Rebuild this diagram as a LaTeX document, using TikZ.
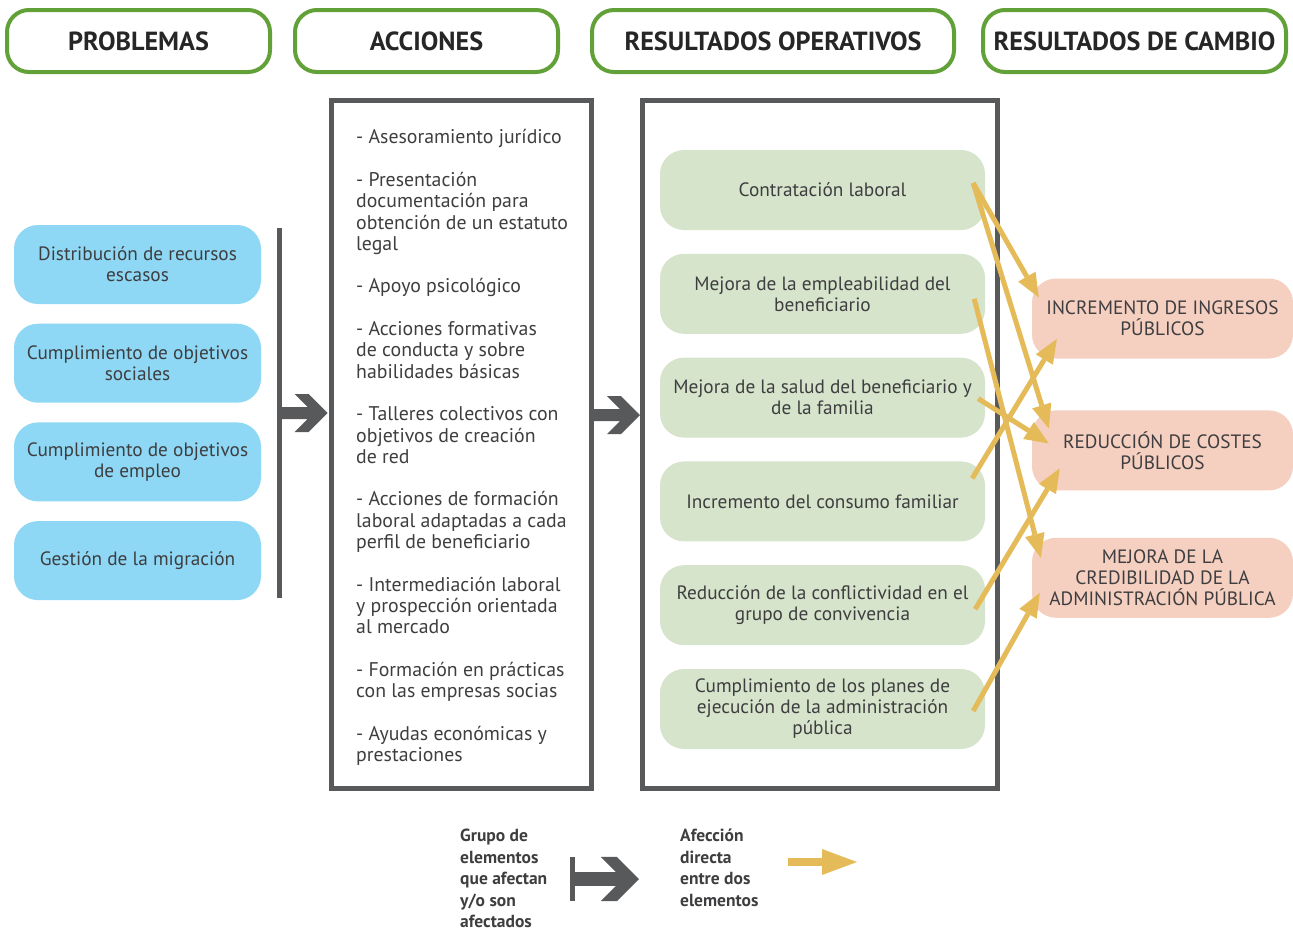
\documentclass[tikz,border=0pt]{standalone}
\usepackage{fontspec}
\setmainfont{PT Sans}
\usetikzlibrary{positioning,calc,arrows.meta}

\definecolor{hdgreen}{RGB}{98,160,56}
\definecolor{pbblue}{RGB}{142,216,245}
\definecolor{opgreen}{RGB}{214,228,203}
\definecolor{campink}{RGB}{245,207,192}
\definecolor{grpgrey}{RGB}{88,89,91}
\definecolor{afcyellow}{RGB}{228,187,88}
\definecolor{txtgrey}{RGB}{62,62,64}

\newcommand{\boxfont}{\fontsize{19.3}{21}\selectfont}

\tikzset{
  header/.style={draw=hdgreen, line width=4pt, rounded corners=22pt, fill=white,
    minimum height=62pt, font=\fontsize{26.2}{30}\selectfont\bfseries, text=black!85},
  pbbox/.style={fill=pbblue, rounded corners=24pt, minimum width=247pt,
    minimum height=79pt, align=center, font=\boxfont, text=txtgrey},
  opbox/.style={fill=opgreen, rounded corners=24pt, minimum width=325pt,
    minimum height=80pt, align=center, font=\boxfont, text=txtgrey},
  cambox/.style={fill=campink, rounded corners=24pt, minimum width=261pt,
    minimum height=80pt, align=center, font=\boxfont, text=txtgrey},
  grpbox/.style={draw=grpgrey, line width=5pt, inner sep=0pt},
  grpbar/.style={fill=grpgrey, inner sep=0pt, minimum width=5pt},
  acctext/.style={align=left, inner sep=0pt, text=txtgrey,
    font=\fontsize{19.8}{21.3}\selectfont},
  lgtext/.style={align=left, inner sep=0pt, text=txtgrey,
    font=\fontsize{17.5}{21.5}\selectfont\bfseries},
  afc/.style={draw=afcyellow, line width=5pt,
    -{Triangle[length=24pt, width=20pt, line width=0pt]}},
  afclegend/.style={draw=afcyellow, line width=8pt,
    -{Triangle[length=35pt, width=26pt, line width=0pt]}},
  pics/grparrow/.style={code={
    \fill[grpgrey] (0,-6) -- (#1-20,-6) -- (#1-33,-19) -- (#1-19,-19) -- (#1,0)
      -- (#1-19,19) -- (#1-33,19) -- (#1-20,6) -- (0,6) -- cycle;
  }},
}

\begin{document}
\begin{tikzpicture}[x=1pt, y=-1pt]

    \useasboundingbox (0,0) rectangle (1293,930);

    % column headers
    \node[header, minimum width=263pt] (hdpb)  at (138.5,41)  {PROBLEMAS};
    \node[header, minimum width=263pt] (hdacc) at (426.5,41)  {ACCIONES};
    \node[header, minimum width=362pt] (hdop)  at (773,41)    {RESULTADOS OPERATIVOS};
    \node[header, minimum width=303pt] (hdcam) at (1134.5,41) {RESULTADOS DE CAMBIO};

    % problem nodes
    \node[pbbox] (pb1) at (137.5,264.5) {Distribución de recursos\\escasos};
    \node[pbbox, below=19.3pt of pb1] (pb2) {Cumplimiento de objetivos\\sociales};
    \node[pbbox, below=19.3pt of pb2] (pb3) {Cumplimiento de objetivos\\de empleo};
    \node[pbbox, below=19.3pt of pb3] (pb4) {Gestión de la migración};

    \node[grpbar, minimum height=370pt] (bar) at (279,413) {};

    % action group (anchored at the baseline of its last line)
    \node[grpbox, minimum width=260pt, minimum height=688pt] (acc) at (461.5,444.5) {};
    \node[acctext, anchor=base west] (acctxt) at (356,761.5) {%
      - Asesoramiento jurídico\\[21.3pt]
      - Presentación\\documentación para\\obtención de un estatuto\\legal\\[21.3pt]
      - Apoyo psicológico\\[21.3pt]
      - Acciones formativas\\de conducta y sobre\\habilidades básicas\\[21.3pt]
      - Talleres colectivos con\\objetivos de creación\\de red\\[21.3pt]
      - Acciones de formación\\laboral adaptadas a cada\\perfil de beneficiario\\[21.3pt]
      - Intermediación laboral\\y prospección orientada\\al mercado\\[21.3pt]
      - Formación en prácticas\\con las empresas socias\\[21.3pt]
      - Ayudas económicas y\\prestaciones};

    % operative result nodes
    \node[grpbox, minimum width=355pt, minimum height=688pt] (res) at (820,444.5) {};
    \node[opbox] (op1) at (822.5,190) {Contratación laboral};
    \node[opbox, below=23.4pt of op1] (op2) {Mejora de la empleabilidad del\\beneficiario};
    \node[opbox, below=23.4pt of op2] (op3) {Mejora de la salud del beneficiario y\\de la familia};
    \node[opbox, below=23.4pt of op3] (op4) {Incremento del consumo familiar};
    \node[opbox, below=23.4pt of op4] (op5) {Reducción de la conflictividad en el\\grupo de convivencia};
    \node[opbox, below=23.4pt of op5] (op6) {Cumplimiento de los planes de\\ejecución de la administración\\pública};

    % change result nodes
    \node[cambox] (cam1) at (1162.5,318.5) {INCREMENTO DE INGRESOS\\PÚBLICOS};
    \node[cambox, below=51.5pt of cam1] (cam2) {REDUCCIÓN DE COSTES\\PÚBLICOS};
    \node[cambox, below=47pt of cam2] (cam3) {MEJORA DE LA\\CREDIBILIDAD DE LA\\ADMINISTRACIÓN PÚBLICA};

    % group arrows
    \pic at (bar.east) {grparrow=46};
    \pic at (acc.east |- 0,415) {grparrow=46};

    % direct effects
    \draw[afc] ($(op1.east)+(-12,-7)$) -- ($(cam1.west)+(7,-21)$);
    \draw[afc] ($(op1.east)+(-12,-7)$) -- ($(cam2.west)+(17,-22)$);
    \draw[afc] ($(op2.east)+(-11,5)$)  -- ($(cam3.west)+(9,-20)$);
    \draw[afc] ($(op3.east)+(-7,1)$)   -- ($(cam2.west)+(17,-7)$);
    \draw[afc] ($(op4.east)+(-13,-23)$) -- ($(cam1.west)+(25,20.5)$);
    \draw[afc] ($(op5.east)+(-10,4)$)  -- ($(cam2.west)+(28,18)$);
    \draw[afc] ($(op6.east)+(-12,2)$)  -- ($(cam3.west)+(8,15)$);

    % legend
    \node[lgtext, anchor=base west] (lggrp) at (460,927.5) {Grupo de\\elementos\\que afectan\\y/o son\\afectados};
    \node[grpbar, minimum height=44pt] (lgbar) at (572.5,879) {};
    \pic[scale=1.16] at (lgbar.east) {grparrow=55};
    \node[lgtext, anchor=base west] (lgafc) at (680,906) {Afección\\directa\\entre dos\\elementos};
    \coordinate (lgfrom) at (788,862);
    \coordinate (lgto)   at (857,862);
    \draw[afclegend] (lgfrom) -- (lgto);

\end{tikzpicture}
\end{document}
